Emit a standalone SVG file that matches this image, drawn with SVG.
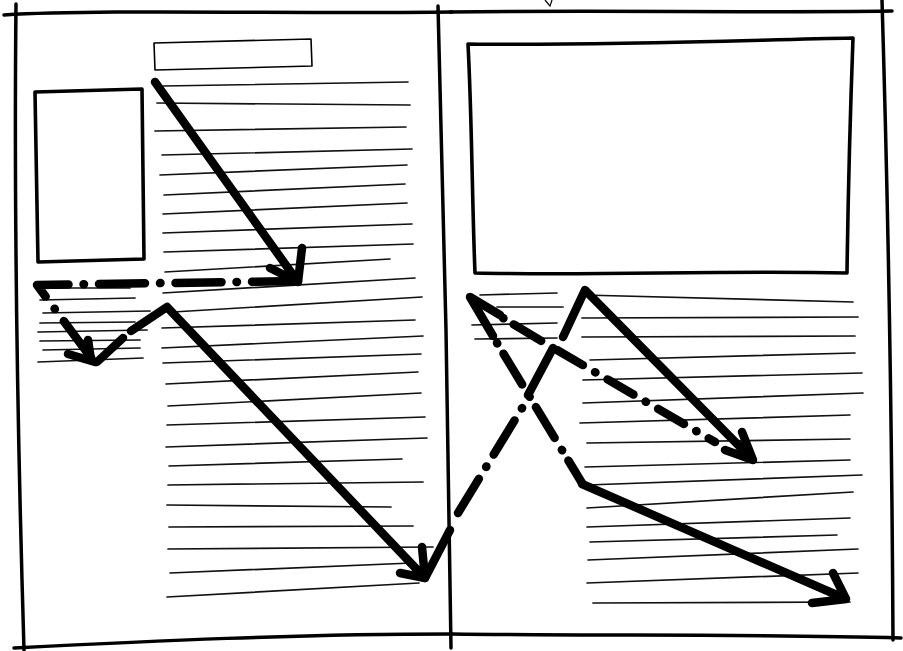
<svg xmlns="http://www.w3.org/2000/svg" width="903" height="651" viewBox="0 0 903 651">
<style>
.frame{fill:none;stroke:#000;stroke-width:3.5;stroke-linecap:round;stroke-linejoin:round}
.box{fill:none;stroke:#000;stroke-width:3.6;stroke-linecap:round;stroke-linejoin:round}
.thin{fill:none;stroke:#000;stroke-width:1.6;stroke-linejoin:round}
.txt{fill:none;stroke:#111;stroke-width:1.7;stroke-linecap:round}
.arr{fill:none;stroke:#000;stroke-width:8.5;stroke-linecap:round;stroke-linejoin:round}
.dd{stroke-dasharray:46 15 0.5 15}
</style>
<rect width="903" height="651" fill="#fff"/>
<g id="page-left">
<path class="frame" d="M4 15 C 100 9, 300 14, 452 12"/>
<path class="frame" d="M16 4 C 14 200, 18 450, 24 650"/>
<path class="frame" d="M14 648 C 150 641, 300 634, 452 634"/>
</g>
<g id="gutter">
<path class="frame" d="M438 6 L 446 330 L 451 648"/>
</g>
<g id="page-right">
<path class="frame" d="M450 12 C 600 10, 750 13, 892 11"/>
<path class="frame" d="M882 0 C 888 200, 892 450, 893 640"/>
<path class="frame" d="M452 634 C 600 636, 750 634, 901 638"/>
<path fill="none" stroke="#000" stroke-width="1.2" d="M545 0 L550 6 L552 0"/>
</g>
<g id="headline">
<path class="thin" d="M154 43 L311 39 L312 66 L155 70 Z"/>
</g>
<g id="image-left">
<path class="box" d="M35 92 L142 89 L144 259 L38 262 Z"/>
</g>
<g id="image-right">
<path class="box" d="M468 44 C 600 46, 750 40, 853 38 C 850 120, 848 200, 847 273 C 720 270, 600 276, 475 273 C 472 200, 472 120, 468 44 Z"/>
</g>
<g id="text-left-main">
<path class="txt" d="M163 86 L408 82 M157 103 L410 105 M155 131 L406 127 M162 155 L412 149 M160 175 L407 165 M164 195 L405 184 M163 214 L407 203 M163 233 L412 224 M164 252 L413 244 M165 272 L390 259 M163 293 L415 278 M173 312 L422 297 M162 328 L415 320 M162 348 L423 336 M163 363 L421 354 M166 384 L418 372 M168 406 L421 393 M167 425 L425 417 M166 447 L427 438 M169 466 L402 459 M168 485 L423 482 M167 505 L391 507 M169 527 L413 526 M168 549 L433 547 M170 573 L412 563 M167 597 L419 583"/>
</g>
<g id="text-left-col">
<path class="txt" d="M45 288 L130 288 M40 300 L135 298 M43 313 L150 311 M40 323 L135 322 M38 332 L147 330 M40 341 L140 340 M43 350 L140 348 M38 362 L143 358"/>
</g>
<g id="text-right-col">
<path class="txt" d="M480 295 L557 293 M497 307 L563 307 M472 325 L557 323 M475 339 L557 338"/>
</g>
<g id="text-right-main">
<path class="txt" d="M583 295 L853 302 M582 318 L858 317 M582 337 L855 336 M590 360 L855 353 M583 380 L862 373 M583 403 L863 393 M580 423 L850 415 M587 443 L850 439 M585 467 L850 460 M587 485 L862 475 M587 508 L853 492 M587 527 L850 518 M590 542 L837 535 M588 560 L858 549 M587 583 L858 573 M593 603 L850 602"/>
</g>
<g id="connectors">
<!-- left page -->
<path class="arr" d="M155 82 L298 282 M302 248 L298 282 L270 268"/>
<path class="arr dd" d="M298 281 L37 285 L92 359"/>
<path class="arr" d="M88 340 L91 360 M68 354 L95 362"/>
<path class="arr" d="M97 362 L123 338 M131 331 L167 307 L425 578 M400 573 L425 578 L422 547"/>
<!-- across gutter -->
<path class="arr" d="M425 578 L450 530"/>
<path class="arr dd" style="stroke-dasharray:40 14 0.5 14" d="M458 513 L527 400"/>
<path class="arr" d="M528 395 L553 348"/>
<path class="arr dd" style="stroke-dasharray:30 14 0.5 14" d="M557 350 L715 442"/>
<path class="arr" d="M563 337 L585 290 L753 460 M742 432 L753 460 L725 450"/>
<!-- right page top-left arrowhead paths -->
<path class="arr" d="M493 336 L470 297 L500 315"/>
<path class="arr dd" style="stroke-dasharray:0.5 12 36 14" d="M497 343 L582 483"/>
<path class="arr dd" style="stroke-dasharray:0.5 12 32 14" d="M503 318 L553 348"/>
<path class="arr" d="M582 484 L846 599 M833 573 L846 599 L812 603"/>
</g>
</svg>
